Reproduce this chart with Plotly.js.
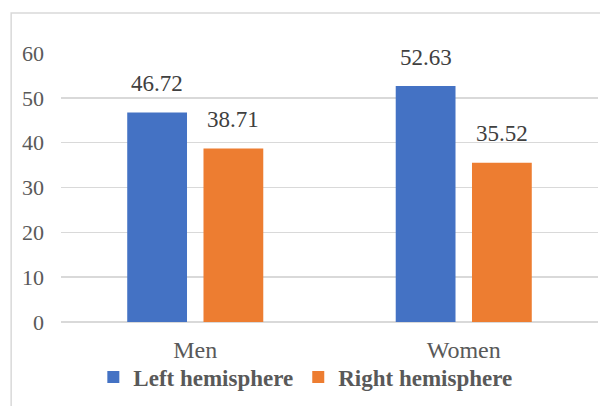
<!DOCTYPE html>
<html>
<head>
<meta charset="utf-8">
<script src="https://cdn.plot.ly/plotly-3.0.1.min.js"></script>
<style>
  html, body { margin: 0; padding: 0; background: #fff; }
  #chart { width: 600px; height: 406px; }
</style>
</head>
<body>
<div id="chart"></div>
<script>
var categories = ["Men", "Women"];
var seriesNames = ["Left hemisphere", "Right hemisphere"];
var leftValues = [46.72, 52.63];
var rightValues = [38.71, 35.52];
var yTicks = [0, 10, 20, 30, 40, 50, 60];

var colors = ["#4472C4", "#ED7D31"];
var serif = "Liberation Serif";

var traces = [
  { type: "bar", name: seriesNames[0], x: categories, y: leftValues,
    marker: { color: colors[0] }, hoverinfo: "none" },
  { type: "bar", name: seriesNames[1], x: categories, y: rightValues,
    marker: { color: colors[1] }, hoverinfo: "none" }
];

var annotations = [];
var seriesVals = [leftValues, rightValues];
var shifts = [-38, 38];
for (var s = 0; s < seriesVals.length; s++) {
  for (var i = 0; i < categories.length; i++) {
    annotations.push({
      x: categories[i], y: seriesVals[s][i], xref: "x", yref: "y",
      text: seriesVals[s][i].toFixed(2), showarrow: false,
      xshift: shifts[s], yshift: 29, yanchor: "middle",
      font: { family: serif, size: 23, color: "#404040" }
    });
  }
}

var layout = {
  width: 600, height: 406,
  margin: { l: 61, r: 2, t: 53, b: 84 },
  paper_bgcolor: "#ffffff", plot_bgcolor: "#ffffff",
  font: { family: serif },
  barmode: "group", bargap: 0.432, bargroupgap: 0.216,
  showlegend: true,
  legend: {
    orientation: "h", x: 0.455, xanchor: "center", y: -0.205, yanchor: "middle",
    bgcolor: "rgba(0,0,0,0)",
    font: { family: serif, size: 23, color: "#595959", weight: "bold" },
    itemclick: false, itemdoubleclick: false
  },
  xaxis: {
    type: "category", showgrid: false, zeroline: false, showline: false,
    ticks: "", ticklabelstandoff: 11,
    tickfont: { family: serif, size: 24, color: "#595959" }
  },
  yaxis: {
    range: [0, 60], tickvals: yTicks, ticktext: yTicks.map(String),
    showgrid: true, gridcolor: "#d9d9d9", gridwidth: 1.5,
    zeroline: true, zerolinecolor: "#d9d9d9", zerolinewidth: 1.5,
    showline: false, ticks: "", ticklabelstandoff: 16,
    tickfont: { family: serif, size: 22, color: "#595959" }
  },
  annotations: annotations,
  shapes: [{
    type: "rect", xref: "paper", yref: "paper",
    x0: -0.0928, x1: 1.2, y0: -0.6, y1: 1.1487,
    line: { color: "#d9d9d9", width: 1.5 }, fillcolor: "rgba(0,0,0,0)", layer: "below"
  }]
};

Plotly.newPlot("chart", traces, layout, { displayModeBar: false, staticPlot: true });
</script>
</body>
</html>
